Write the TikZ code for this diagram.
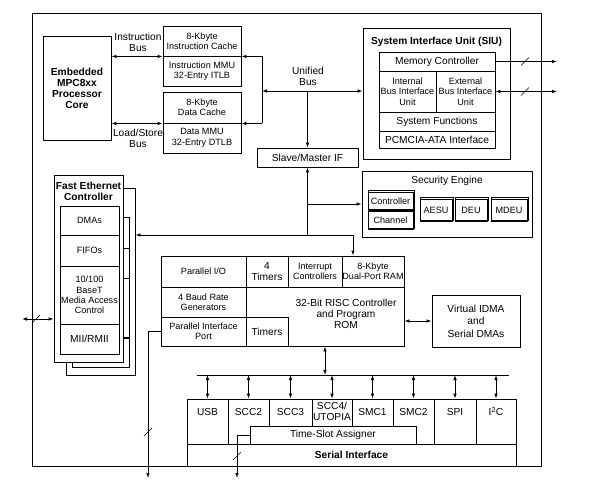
\documentclass[tikz,border=0pt]{standalone}
\usepackage{fontspec}
\setmainfont{Liberation Sans}
\usetikzlibrary{arrows.meta}
\newcommand{\diagfont}{\fontsize{10.2}{11}\selectfont}
\newcommand{\narrowfont}{\fontsize{9.1}{10.4}\selectfont}
\newcommand{\blk}[7][]{\node[box,#1,minimum width={#5-#3},minimum height={#6-#4}] (#2) at ({(#3+#5)/2},{(#4+#6)/2}) {#7};}
\newcommand{\bmark}[1]{\draw[line width=0.6pt] ([shift={(-4,4)}]#1) -- ([shift={(4,-4)}]#1);}
\tikzset{box/.style={draw,inner sep=0pt,align=center,font=\diagfont},
	lbl/.style={align=center,inner sep=0pt,font=\diagfont},
	bld/.style={font=\diagfont\bfseries},
	nar/.style={font=\narrowfont},
	arr/.style={-{Latex[length=5pt,width=3.6pt]}},
	dbl/.style={{Latex[length=5pt,width=3.6pt]}-{Latex[length=5pt,width=3.6pt]}}}
\begin{document}
\begin{tikzpicture}[x=1pt,y=-1pt,line width=0.9pt]
	\useasboundingbox (0,0) rectangle (595,483);
	\draw (32,13) rectangle (541,466);
	\blk[bld]{core}{43}{36}{111}{140}{Embedded\\MPC8xx\\Processor\\Core}
	\blk[nar]{ic}{163}{26}{241}{56}{8-Kbyte\\Instruction Cache}
	\blk[nar]{immu}{163}{56}{241}{86}{Instruction MMU\\32-Entry ITLB}
	\blk[nar]{dc}{163}{92}{241}{123}{8-Kbyte\\Data Cache}
	\blk[nar]{dmmu}{163}{123}{241}{153}{Data MMU\\32-Entry DTLB}
	\draw[line width=1.7pt] (dc.south west) -- (dc.south east);
	\node[lbl] (ibus) at (138,42.5) {Instruction\\Bus};
	\node[lbl] (lsbus) at (138,138.5) {Load/Store\\Bus};
	\draw[dbl] (core.east |- ic.south) -- (ic.south west);
	\draw[dbl] (core.east |- dc.south) -- (dc.south west);
	\blk{siu}{363}{28}{510}{159}{}
	\node[lbl,bld] (siut) at (436.5,42) {System Interface Unit (SIU)};
	\blk{mc}{379}{52}{495}{71}{Memory Controller}
	\blk[nar]{ibiu}{379}{71}{436}{112}{Internal\\Bus Interface\\Unit}
	\blk[nar]{ebiu}{436}{71}{495}{112}{External\\Bus Interface\\Unit}
	\blk{sf}{379}{112}{495}{131}{System Functions}
	\blk{pcm}{379}{131}{495}{148}{PCMCIA-ATA Interface}
	\coordinate (mcend) at (557,62);
	\draw[arr] (mc.east) -- (mc.east -| mcend);
	\draw[dbl] (ebiu.east) -- (ebiu.east -| mcend);
	\bmark{525,61.5}
	\bmark{525,91.5}
	\coordinate (ub) at (262,91);
	\draw[arr] (ub |- ic.south) -- (ic.south east);
	\draw[arr] (ub |- dc.south) -- (dc.south east);
	\draw (ub |- ic.south) -- (ub |- dc.south);
	\draw[dbl] (ub) -- (ub -| siu.west);
	\node[lbl] (ubl) at (308,76.5) {Unified\\Bus};
	\blk{smif}{257}{148}{358}{167}{Slave/Master IF}
	\draw[arr] (smif.north |- ub) -- (smif.north);
	\blk{se}{362}{171}{532}{237}{}
	\node[lbl] (set) at (447,181) {Security Engine};
	\blk[nar]{ctl}{368}{192}{413}{211}{Controller}
	\blk[nar]{chn}{368}{211}{413}{229}{Channel}
	\blk[nar]{aesu}{420}{199}{452}{221}{AESU}
	\blk[nar]{deu}{455}{199}{487}{221}{DEU}
	\blk[nar]{mdeu}{491}{199}{527}{221}{MDEU}
	\foreach \n in {ctl,chn,aesu,deu,mdeu}
		\draw[line width=0.4pt] ([shift={(1,-1)}]\n.south west) rectangle ([shift={(1,-1)}]\n.north east);
	\blk[fill=white]{fec3}{66}{188}{135}{375}{}
	\blk[fill=white]{fec2}{72}{217}{129}{367}{}
	\foreach \y in {248,278}
		\draw (123,\y) -- (129,\y);
	\draw[line width=1.8pt] (123,338) -- (129,338);
	\blk[fill=white]{fec}{54}{175}{123}{362}{}
	\node[lbl,bld] (fect) at (88.5,191.5) {Fast Ethernet\\Controller};
	\blk[nar]{dmas}{60}{206}{119}{235}{DMAs}
	\blk[nar]{fifos}{60}{235}{119}{266}{FIFOs}
	\blk[nar]{mac}{60}{266}{119}{324}{10/100\\BaseT\\Media Access\\Control}
	\blk{mii}{60}{324}{119}{354}{MII/RMII}
	\coordinate (fl) at (22,319);
	\draw[dbl] (fl) -- (fl -| fec.west);
	\bmark{36,319}
	\blk{cpm}{161}{256}{404}{346}{}
	\blk[nar]{pio}{161}{256}{246}{287}{Parallel I/O}
	\blk{tmr4}{246}{256}{288}{287}{4\\Timers}
	\blk[nar]{intc}{288}{256}{342}{287}{Interrupt\\Controllers}
	\blk[nar]{dpram}{342}{256}{404}{287}{8-Kbyte\\Dual-Port RAM}
	\blk[nar]{brg}{161}{287}{246}{317}{4 Baud Rate\\Generators}
	\blk[nar]{pip}{161}{317}{246}{346}{Parallel Interface\\Port}
	\blk{tmr}{246}{317}{288}{346}{Timers}
	\node[lbl] (risc) at (346,313.5) {32-Bit RISC Controller\\and Program\\ROM};
	\coordinate (j1) at (307.5,235);
	\coordinate (dpt) at ([xshift=-20]dpram.north);
	\draw[arr] (j1) -- (smif.south);
	\draw[arr] (j1 |- se.west) -- (se.west);
	\draw[arr] (j1) -- (j1 -| fec3.east);
	\draw[arr] (j1) -| (dpt);
	\blk[font=\fontsize{10.2}{12.5}\selectfont]{vdma}{432}{295}{520}{347}{Virtual IDMA\\and\\Serial DMAs}
	\draw[dbl] (vdma.west -| cpm.east) -- (vdma.west);
	\coordinate (busl) at (197,375);
	\coordinate (busr) at (509,375);
	\draw (busl) -- (busr);
	\coordinate (cpmb) at ([xshift=42.5]cpm.south);
	\draw[dbl] (cpmb) -- (cpmb |- busl);
	\foreach \a/\b/\n/\t in {187/228/usb/USB, 228/269/scc2/SCC2, 269/312/scc3/SCC3, 312/352/scc4/{SCC4/\\UTOPIA}, 352/393/smc1/SMC1, 393/434/smc2/SMC2, 434/476/spi/SPI, 476/516/i2c/{I\textsuperscript{2}C}}{
		\blk{\n}{\a}{399}{\b}{444}{}
		\node[lbl] (\n-t) at ([yshift=-13]\n.north) {\t};
		\draw[dbl] (\n.north |- busl) -- (\n.north);
	}
	\blk[fill=white]{tsa}{250}{426}{416}{444}{Time-Slot Assigner}
	\blk[bld]{si}{187}{444}{516}{466}{Serial Interface}
	\coordinate (tsab) at (237,478);
	\draw[arr] (tsa.west) -| (tsab);
	\bmark{237,456}
	\coordinate (pipb) at (148,478);
	\draw[arr] (pip.west) -| (pipb);
	\bmark{148,432}
\end{tikzpicture}
\end{document}
